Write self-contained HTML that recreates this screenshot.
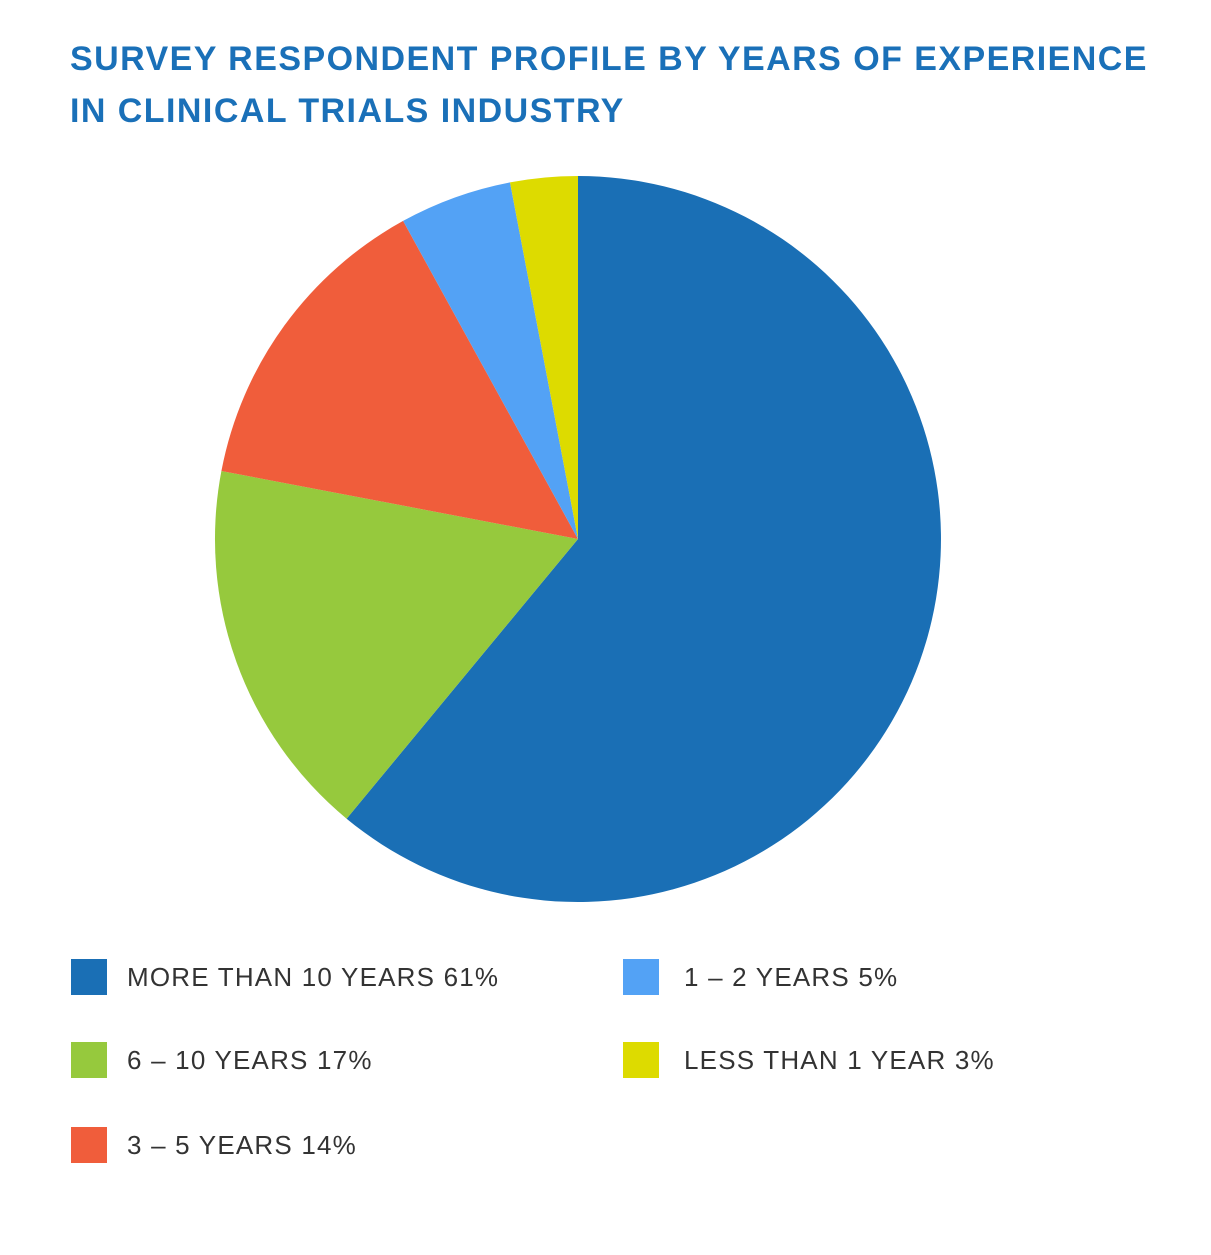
<!DOCTYPE html>
<html><head><style>
body{margin:0;background:#fff;width:1211px;height:1255px;position:relative;overflow:hidden;font-family:"Liberation Sans",sans-serif}
.t{position:absolute;left:70px;top:33px;color:#1a70b8;font-weight:bold;font-size:34px;line-height:52px;letter-spacing:1.45px}
.sq{position:absolute;width:36px;height:36px}
.lb{position:absolute;font-size:26px;color:#333;line-height:36px;letter-spacing:1.2px}
</style></head><body>
<div class="t">SURVEY RESPONDENT PROFILE BY YEARS OF EXPERIENCE<br>IN CLINICAL TRIALS INDUSTRY</div>
<svg width="1211" height="1255" style="position:absolute;left:0;top:0">
<path d="M578,539 L578,176 A363,363 0 1 1 346.6,818.7 Z" fill="#1a6fb5"/>
<path d="M578,539 L346.6,818.7 A363,363 0 0 1 221.4,471 Z" fill="#96c93d"/>
<path d="M578,539 L221.4,471 A363,363 0 0 1 403.1,220.9 Z" fill="#f05d3b"/>
<path d="M578,539 L403.1,220.9 A363,363 0 0 1 510,182.4 Z" fill="#53a2f5"/>
<path d="M578,539 L510,182.4 A363,363 0 0 1 578,176 Z" fill="#dddb00"/>
</svg>
<div class="sq" style="left:71px;top:959px;background:#1a6fb5"></div><div class="lb" style="left:127px;top:959px">MORE THAN 10 YEARS 61%</div>
<div class="sq" style="left:623px;top:959px;background:#53a2f5"></div><div class="lb" style="left:684px;top:959px">1 – 2 YEARS 5%</div>
<div class="sq" style="left:71px;top:1042px;background:#96c93d"></div><div class="lb" style="left:127px;top:1042px">6 – 10 YEARS 17%</div>
<div class="sq" style="left:623px;top:1042px;background:#dddb00"></div><div class="lb" style="left:684px;top:1042px">LESS THAN 1 YEAR 3%</div>
<div class="sq" style="left:71px;top:1127px;background:#f05d3b"></div><div class="lb" style="left:127px;top:1127px">3 – 5 YEARS 14%</div>
</body></html>
